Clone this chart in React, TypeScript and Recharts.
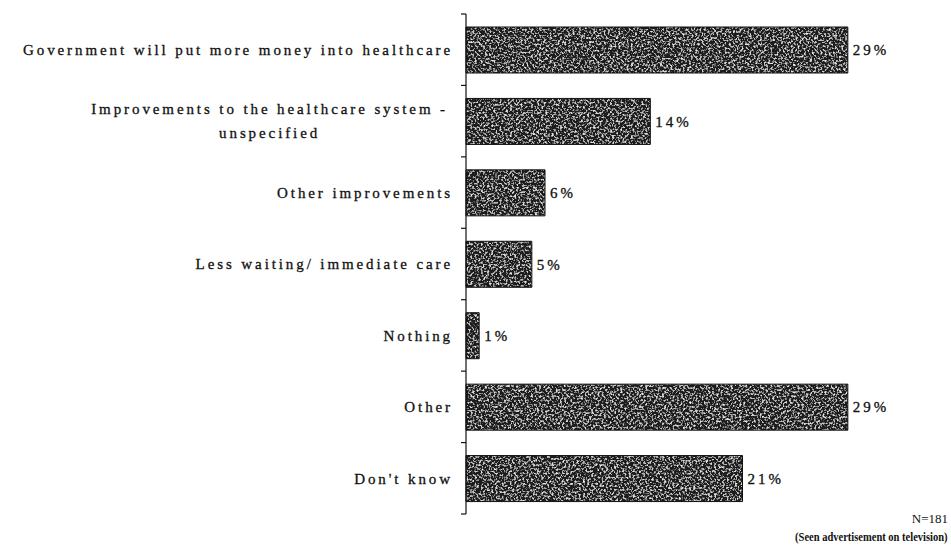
import { BarChart, Bar, XAxis, YAxis, LabelList } from 'recharts';

// Respostas (uma por linha do gráfico) e percentuais correspondentes
const respostas = [
  'Government will put more money into healthcare',
  'Improvements to the healthcare system -\nunspecified',
  'Other improvements',
  'Less waiting/ immediate care',
  'Nothing',
  'Other',
  "Don't know",
];
const percentuais = [29, 14, 6, 5, 1, 29, 21];
const dominio = [0, 30];
const amostra = 'N=181';
const baseAmostra = '(Seen advertisement on television)';

const W = 951;
const H = 546;
const MARGEM = { top: 14, right: 90, bottom: 32, left: 0 };
const EIXO_X = 466; // largura do YAxis => posição da linha do eixo
const FONTE = "'Liberation Serif', 'Times New Roman', serif";
const TAM = 15;
const ESPACO = 2.9;

const dados = respostas.map((nome, i) => ({ nome, valor: percentuais[i] }));

// mede texto com o mesmo espaçamento usado no svg (para centralizar rótulos quebrados)
let ctx: CanvasRenderingContext2D | null = null;
function larguraTexto(t: string) {
  if (!ctx) ctx = document.createElement('canvas').getContext('2d');
  if (!ctx) return t.length * 9;
  ctx.font = `${TAM}px ${FONTE}`;
  return ctx.measureText(t).width + t.length * ESPACO;
}

// Rótulo do eixo Y + marcas nas divisões entre categorias
function Rotulo({ y, payload, index }: any) {
  const banda = (H - MARGEM.top - MARGEM.bottom) / respostas.length;
  const linhas = String(payload.value).split('\n');
  const fimTexto = EIXO_X - 13;
  const marca = (yy: number) => (
    <line x1={EIXO_X - 5} x2={EIXO_X} y1={yy} y2={yy} stroke="#111" strokeWidth={1.2} />
  );
  const estilo = { letterSpacing: ESPACO };
  const comum = { fill: '#111', stroke: '#111', strokeWidth: 0.3, fontFamily: FONTE, fontSize: TAM, style: estilo };

  let texto;
  if (linhas.length === 1) {
    texto = (
      <text x={fimTexto} y={y} dy="0.35em" textAnchor="end" {...comum}>
        {linhas[0]}
      </text>
    );
  } else {
    const maior = Math.max(...linhas.map(larguraTexto));
    const cx = fimTexto - 5 - maior / 2;
    const passo = 24;
    const y0 = y - ((linhas.length - 1) * passo) / 2;
    texto = (
      <text x={cx} textAnchor="middle" {...comum}>
        {linhas.map((l, i) => (
          <tspan key={i} x={cx} y={y0 + i * passo} dy="0.35em">{l}</tspan>
        ))}
      </text>
    );
  }

  return (
    <g>
      {marca(y - banda / 2)}
      {index === respostas.length - 1 && marca(y + banda / 2)}
      {texto}
    </g>
  );
}

export default function App() {
  return (
    <div style={{ position: 'absolute', left: 0, top: 0, width: W, height: H, background: '#fff' }}>
      {/* textura granulada das barras */}
      <svg width={0} height={0} style={{ position: 'absolute' }}>
        <defs>
          <filter id="ruido" x="0" y="0" width="100%" height="100%">
            <feTurbulence type="fractalNoise" baseFrequency="0.48" numOctaves={2} seed={7} result="n" />
            <feColorMatrix
              in="n"
              type="matrix"
              values="0 0 0 0 0.78  0 0 0 0 0.78  0 0 0 0 0.78  4 0 0 0 -2.0"
              result="pontos"
            />
            <feComposite in="pontos" in2="SourceAlpha" operator="in" result="recorte" />
            <feMerge>
              <feMergeNode in="SourceGraphic" />
              <feMergeNode in="recorte" />
            </feMerge>
          </filter>
          <pattern id="grao" patternUnits="userSpaceOnUse" width={W} height={H}>
            <rect width={W} height={H} fill="#1e1e1e" filter="url(#ruido)" />
          </pattern>
        </defs>
      </svg>

      <BarChart width={W} height={H} data={dados} layout="vertical" margin={MARGEM}>
        <XAxis type="number" domain={dominio} hide />
        <YAxis
          type="category"
          dataKey="nome"
          width={EIXO_X}
          axisLine={{ stroke: '#111', strokeWidth: 1.2 }}
          tickLine={false}
          interval={0}
          tick={<Rotulo />}
        />
        <Bar dataKey="valor" barSize={46} fill="url(#grao)" stroke="#111" strokeWidth={1} isAnimationActive={false}>
          <LabelList
            dataKey="valor"
            position="right"
            offset={5}
            formatter={(v: any) => `${v}%`}
            fill="#111"
            stroke="#111"
            strokeWidth={0.3}
            fontFamily={FONTE}
            fontSize={TAM}
            style={{ letterSpacing: 3 }}
          />
        </Bar>
      </BarChart>

      <div
        style={{
          position: 'absolute',
          right: 3,
          top: 510,
          textAlign: 'right',
          fontFamily: FONTE,
          lineHeight: '18px',
          color: '#111',
        }}
      >
        <div style={{ fontSize: 13 }}>{amostra}</div>
        <div
          style={{
            fontWeight: 'bold',
            fontSize: 12.5,
            whiteSpace: 'nowrap',
            transform: 'scaleX(0.84)',
            transformOrigin: 'right center',
          }}
        >
          {baseAmostra}
        </div>
      </div>
    </div>
  );
}
